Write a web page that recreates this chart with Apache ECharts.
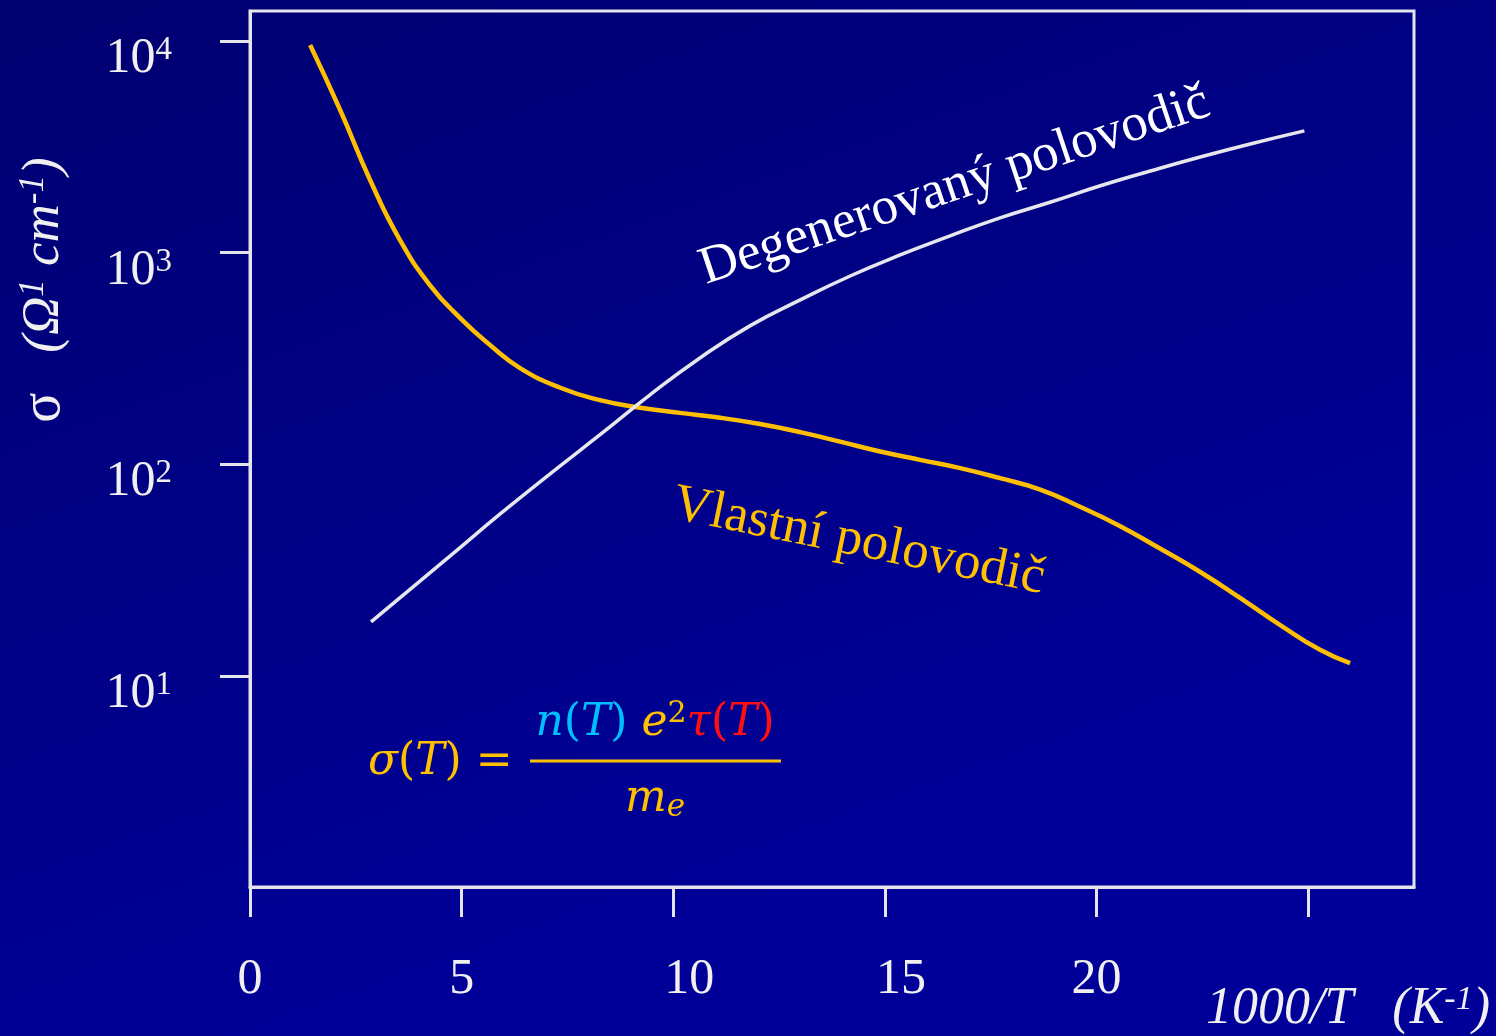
<!DOCTYPE html>
<html><head><meta charset="utf-8">
<script src="https://cdn.jsdelivr.net/npm/echarts@6/dist/echarts.min.js"></script>
<style>html,body{margin:0;padding:0;width:1496px;height:1036px;overflow:hidden;background:#000080;}#c{width:1496px;height:1036px;}</style>
</head><body><div id="c"></div><script>
// Intrinsic semiconductor (Vlastní polovodič)
const xIntrinsic = [1.42, 2.13, 2.84, 3.54, 4.25, 4.96, 5.67, 6.38, 7.33, 8.27, 9.22, 10.16, 11.11, 12.05, 13.0, 13.94, 14.89, 15.83, 16.78, 17.72, 18.67, 19.61, 20.56, 21.5, 22.45, 23.39, 24.34, 25.28, 25.99];
const sigmaIntrinsic = [9570, 4720, 2200, 1150, 703, 492, 366, 285, 230, 201, 185, 175, 166, 155, 142, 128, 115, 105, 96, 86, 76, 63, 51, 40, 31, 23.4, 17.4, 13.3, 11.5];
// Degenerate semiconductor (Degenerovaný polovodič)
const xDegenerate = [2.86, 3.54, 4.73, 5.91, 7.09, 8.27, 9.45, 10.63, 11.81, 13.0, 14.18, 15.36, 16.54, 17.72, 18.9, 20.09, 21.27, 22.45, 23.63, 24.91];
const sigmaDegenerate = [18.0, 23.4, 36.9, 58.3, 90.2, 138, 213, 318, 451, 598, 776, 975, 1200, 1460, 1730, 2070, 2430, 2830, 3260, 3760];
// Ticks
const xTicks = [0, 5, 10, 15, 20, 25];
const xTickLabels = [0, 5, 10, 15, 20];
const yTicks = [10, 100, 1000, 10000];
const yTickExponents = ['1', '2', '3', '4'];

const serif = '"Liberation Serif", "Times New Roman", serif';
const mathFont = '"DejaVu Serif", serif';
const frameColor = '#E4E4EC';
const orange = '#FFBE00';
const fOrange = '#FFC000';
const cyan = '#00BFFF';
const red = '#FF1010';
const txt = '#F0F0F0';

function pairs(xs, ys) { return xs.map((x, i) => [x, ys[i]]); }
function expFor(v) {
  let best = 0, bd = Infinity;
  yTicks.forEach((t, i) => { const d = Math.abs(Math.log10(v) - Math.log10(t)); if (d < bd) { bd = d; best = i; } });
  return yTickExponents[best];
}

const chart = echarts.init(document.getElementById('c'), null, { renderer: 'canvas' });
chart.setOption({
  animation: false,
  backgroundColor: { type: 'linear', x: 0, y: 0, x2: 0.25, y2: 1, colorStops: [{ offset: 0, color: '#000070' }, { offset: 1, color: '#000098' }] },
  grid: { left: 250, right: 82, top: 11, bottom: 149, show: true, borderColor: frameColor, borderWidth: 3, backgroundColor: 'transparent' },
  xAxis: {
    type: 'value', min: 0, max: 27.5,
    axisLine: { show: true, lineStyle: { color: frameColor, width: 3 } },
    axisTick: { show: true, length: 30, inside: false, customValues: xTicks, lineStyle: { color: frameColor, width: 3 } },
    axisLabel: {
      show: true, customValues: xTickLabels, margin: 68, color: txt, fontFamily: serif, fontSize: 50,
      formatter: v => (v === 10 || v === 15) ? '{sh|' + v + '}' : String(v),
      rich: { sh: { padding: [0, 0, 0, 32], fontFamily: serif, fontSize: 50, color: txt } }
    },
    splitLine: { show: false }
  },
  yAxis: {
    type: 'log', logBase: 10, min: 1.007, max: 13860,
    axisLine: { show: true, lineStyle: { color: frameColor, width: 3 } },
    axisTick: { show: true, length: 30, inside: false, customValues: yTicks, lineStyle: { color: frameColor, width: 3 } },
    minorTick: { show: false },
    axisLabel: {
      show: true, customValues: yTicks, margin: 78, color: txt, padding: [36, 0, 0, 0],
      formatter: v => '{b|10}{s|' + expFor(v) + '}',
      rich: {
        b: { fontFamily: serif, fontSize: 50, lineHeight: 50, color: txt },
        s: { fontFamily: serif, fontSize: 33, lineHeight: 33, verticalAlign: 'top', color: txt }
      }
    },
    splitLine: { show: false }
  },
  series: [
    { name: 'Vlastní polovodič', type: 'line', smooth: 0.5, showSymbol: false, data: pairs(xIntrinsic, sigmaIntrinsic), lineStyle: { color: orange, width: 4.5 }, itemStyle: { color: orange } },
    { name: 'Degenerovaný polovodič', type: 'line', smooth: 0.5, showSymbol: false, data: pairs(xDegenerate, sigmaDegenerate), lineStyle: { color: '#E6E6EE', width: 3.5 }, itemStyle: { color: '#E6E6EE' } }
  ],
  graphic: [
    { type: 'text', x: 710, y: 296, rotation: 18.5 * Math.PI / 180, silent: true,
      style: { text: 'Degenerovaný polovodič', fill: '#FFFFFF', font: '53px ' + serif, align: 'left', textAlign: 'left', verticalAlign: 'bottom', textVerticalAlign: 'bottom' } },
    { type: 'text', x: 668, y: 530, rotation: -11.5 * Math.PI / 180, silent: true,
      style: { text: 'Vlastní polovodič', fill: fOrange, font: '53px ' + serif, align: 'left', textAlign: 'left', verticalAlign: 'bottom', textVerticalAlign: 'bottom' } },
    { type: 'text', x: 44, y: 290, rotation: Math.PI / 2, silent: true,
      style: { text: '{g|σ}{t|   (Ω}{s|1}{t| cm}{s|-1}{t|)}', align: 'center', textAlign: 'center', verticalAlign: 'middle', textVerticalAlign: 'middle', fill: txt, font: '52px ' + serif,
        rich: {
          g: { fontFamily: serif, fontSize: 56, lineHeight: 56, fill: txt, color: txt },
          t: { fontFamily: serif, fontStyle: 'italic', fontSize: 53, lineHeight: 56, fill: txt, color: txt },
          s: { fontFamily: serif, fontStyle: 'italic', fontSize: 35, lineHeight: 35, verticalAlign: 'top', fill: txt, color: txt }
        } } },
    { type: 'text', x: 1490, y: 1009, silent: true,
      style: { text: '{t|1000/T   (K}{s|-1}{t|)}', align: 'right', textAlign: 'right', verticalAlign: 'middle', textVerticalAlign: 'middle', fill: txt, font: 'italic 52px ' + serif,
        rich: {
          t: { fontFamily: serif, fontStyle: 'italic', fontSize: 52, lineHeight: 52, fill: txt, color: txt },
          s: { fontFamily: serif, fontStyle: 'italic', fontSize: 34, lineHeight: 34, verticalAlign: 'top', fill: txt, color: txt }
        } } },
    // formula
    { type: 'text', x: 368, y: 763, silent: true,
      style: { text: '{oi|σ}{o|(}{oi|T}{o|) =}', align: 'left', textAlign: 'left', verticalAlign: 'middle', textVerticalAlign: 'middle', font: '44px ' + mathFont, fill: fOrange,
        rich: {
          oi: { fontFamily: mathFont, fontStyle: 'italic', fontSize: 44, lineHeight: 50, fill: fOrange, color: fOrange },
          o: { fontFamily: mathFont, fontSize: 44, lineHeight: 50, fill: fOrange, color: fOrange }
        } } },
    { type: 'text', x: 655, y: 724, silent: true,
      style: { text: '{ci|n}{c|(}{ci|T}{c|) }{oi|e}{sup|2}{ri|τ}{r|(}{ri|T}{r|)}', align: 'center', textAlign: 'center', verticalAlign: 'middle', textVerticalAlign: 'middle', font: '44px ' + mathFont, fill: fOrange,
        rich: {
          ci: { fontFamily: mathFont, fontStyle: 'italic', fontSize: 44, lineHeight: 50, fill: cyan, color: cyan },
          c: { fontFamily: mathFont, fontSize: 44, lineHeight: 50, fill: cyan, color: cyan },
          oi: { fontFamily: mathFont, fontStyle: 'italic', fontSize: 44, lineHeight: 50, fill: fOrange, color: fOrange },
          sup: { fontFamily: mathFont, fontSize: 30, lineHeight: 30, verticalAlign: 'top', fill: fOrange, color: fOrange },
          ri: { fontFamily: mathFont, fontStyle: 'italic', fontSize: 44, lineHeight: 50, fill: red, color: red },
          r: { fontFamily: mathFont, fontSize: 44, lineHeight: 50, fill: red, color: red }
        } } },
    { type: 'line', silent: true, shape: { x1: 530, y1: 761, x2: 781, y2: 761 }, style: { stroke: fOrange, lineWidth: 3 } },
    { type: 'text', x: 655, y: 800, silent: true,
      style: { text: '{oi|m}{sub|e}', align: 'center', textAlign: 'center', verticalAlign: 'middle', textVerticalAlign: 'middle', font: '44px ' + mathFont, fill: fOrange,
        rich: {
          oi: { fontFamily: mathFont, fontStyle: 'italic', fontSize: 44, lineHeight: 46, fill: fOrange, color: fOrange },
          sub: { fontFamily: mathFont, fontStyle: 'italic', fontSize: 31, lineHeight: 31, verticalAlign: 'bottom', fill: fOrange, color: fOrange }
        } } }
  ]
});
</script></body></html>
